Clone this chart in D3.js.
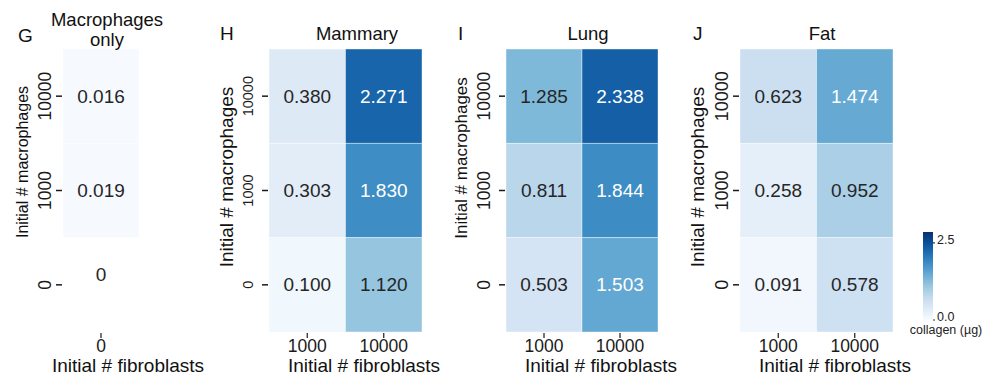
<!DOCTYPE html>
<html>
<head>
<meta charset="utf-8">
<script src="https://cdn.jsdelivr.net/npm/d3@7"></script>
<style>
  html, body { margin: 0; padding: 0; background: #fff; }
  svg { display: block; font-family: "Liberation Sans", Arial, Helvetica, sans-serif; }
</style>
</head>
<body>
<svg id="chart" width="985" height="375"></svg>
<script>
// Initial seeding densities (tick labels)
const fibroblastTicks = ["1000", "10000"];
const macrophageTicks = ["10000", "1000", "0"];
const noFibroblastTicks = ["0"];

// Collagen deposited (µg); rows follow macrophageTicks, columns follow fibroblast ticks
const macrophagesOnly = [0.016, 0.019, 0];
const macrophagesOnlyEmpty = [false, false, true];
const mammary = [[0.380, 2.271], [0.303, 1.830], [0.100, 1.120]];
const lung    = [[1.285, 2.338], [0.811, 1.844], [0.503, 1.503]];
const fat     = [[0.623, 1.474], [0.258, 0.952], [0.091, 0.578]];

// Colour scale limits and colour bar ticks
const colorDomain = [0, 2.85];
const colorTicks = [0, 2.5];
const colorLabel = "collagen (µg)";

const svg = d3.select("#chart");
const color = d3.scaleSequential(d3.interpolateBlues).domain(colorDomain);
const fmt = d3.format(".3f");

function luminance(c) {
  const rgb = d3.rgb(c);
  const lin = v => { v /= 255; return v <= 0.03928 ? v / 12.92 : Math.pow((v + 0.055) / 1.055, 2.4); };
  return 0.2126 * lin(rgb.r) + 0.7152 * lin(rgb.g) + 0.0722 * lin(rgb.b);
}

const gridTop = 49, gridBottom = 332;

const panels = [
  { letter: "G", letterX: 18, letterY: 42, title: ["Macrophages", "only"], titleX: 107, titleY: 26,
    cols: noFibroblastTicks, rows: macrophagesOnly.map(v => [v]), empty: macrophagesOnlyEmpty.map(v => [v]),
    left: 63, right: 139, yLab: { x: 22, y: 162, size: 16 }, yTick: { size: 17.5, off: 18 }, xLabX: 128 },
  { letter: "H", letterX: 220, letterY: 40, title: ["Mammary"], titleX: 357, titleY: 40,
    cols: fibroblastTicks, rows: mammary, left: 269, right: 422,
    yLab: { x: 226, y: 177, size: 19 }, yTick: { size: 14.5, off: 21 }, xLabX: 364 },
  { letter: "I", letterX: 458, letterY: 40, title: ["Lung"], titleX: 588, titleY: 40,
    cols: fibroblastTicks, rows: lung, left: 506, right: 658,
    yLab: { x: 461, y: 158, size: 17 }, yTick: { size: 17.5, off: 22 }, xLabX: 601 },
  { letter: "J", letterX: 693, letterY: 40, title: ["Fat"], titleX: 822, titleY: 40,
    cols: fibroblastTicks, rows: fat, left: 740, right: 893,
    yLab: { x: 697, y: 177, size: 19 }, yTick: { size: 18, off: 18 }, xLabX: 835 }
];

panels.forEach(p => {
  const g = svg.append("g");
  const x = d3.scaleBand().domain(p.cols).range([p.left, p.right]);
  const y = d3.scaleBand().domain(macrophageTicks).range([gridTop, gridBottom]);

  const cells = [];
  p.rows.forEach((row, i) => row.forEach((v, j) => {
    cells.push({ row: macrophageTicks[i], col: p.cols[j], value: v,
                 empty: p.empty ? p.empty[i][j] : false });
  }));

  // cells
  g.selectAll("rect.cell").data(cells.filter(d => !d.empty)).join("rect")
    .attr("class", "cell")
    .attr("x", d => x(d.col)).attr("y", d => y(d.row))
    .attr("width", x.bandwidth()).attr("height", y.bandwidth())
    .attr("fill", d => color(d.value))
    .attr("stroke", "rgba(255,255,255,0.5)").attr("stroke-width", 0.8);

  // annotations
  g.selectAll("text.ann").data(cells).join("text")
    .attr("class", "ann")
    .attr("x", d => x(d.col) + x.bandwidth() / 2)
    .attr("y", d => y(d.row) + y.bandwidth() / 2 + (d.empty ? -10 : 0))
    .attr("text-anchor", "middle").attr("dominant-baseline", "central")
    .attr("font-size", 19)
    .attr("fill", d => (!d.empty && luminance(color(d.value)) < 0.408) ? "#ffffff" : "#262626")
    .text(d => d.empty ? String(d.value) : fmt(d.value));

  // y axis ticks
  const yt = g.selectAll("g.ytick").data(macrophageTicks).join("g").attr("class", "ytick");
  yt.append("line")
    .attr("x1", p.left - 7).attr("x2", p.left - 1)
    .attr("y1", d => y(d) + y.bandwidth() / 2).attr("y2", d => y(d) + y.bandwidth() / 2)
    .attr("stroke", "#1a1a1a").attr("stroke-width", 1.5);
  yt.append("text")
    .attr("transform", d => `translate(${p.left - p.yTick.off},${y(d) + y.bandwidth() / 2}) rotate(-90)`)
    .attr("text-anchor", "middle").attr("dominant-baseline", "central")
    .attr("font-size", p.yTick.size).attr("fill", "#1a1a1a")
    .text(d => d);

  // x axis ticks
  const xt = g.selectAll("g.xtick").data(p.cols).join("g").attr("class", "xtick");
  xt.append("line")
    .attr("x1", d => x(d) + x.bandwidth() / 2).attr("x2", d => x(d) + x.bandwidth() / 2)
    .attr("y1", gridBottom + 1).attr("y2", gridBottom + 6)
    .attr("stroke", "#1a1a1a").attr("stroke-width", 1.2);
  xt.append("text")
    .attr("x", d => x(d) + x.bandwidth() / 2).attr("y", 351.5)
    .attr("text-anchor", "middle").attr("font-size", 17.5).attr("fill", "#1a1a1a")
    .text(d => d);

  // axis titles
  g.append("text")
    .attr("x", p.xLabX).attr("y", 372)
    .attr("text-anchor", "middle").attr("font-size", 19).attr("fill", "#111")
    .text("Initial # fibroblasts");
  g.append("text")
    .attr("transform", `translate(${p.yLab.x},${p.yLab.y}) rotate(-90)`)
    .attr("text-anchor", "middle").attr("dominant-baseline", "central")
    .attr("font-size", p.yLab.size).attr("fill", "#111")
    .text("Initial # macrophages");

  // panel title and letter
  p.title.forEach((t, i) => {
    g.append("text")
      .attr("x", p.titleX).attr("y", p.titleY + i * 19.5)
      .attr("text-anchor", "middle").attr("font-size", 18.5).attr("fill", "#111")
      .text(t);
  });
  g.append("text")
    .attr("x", p.letterX).attr("y", p.letterY)
    .attr("font-size", 19).attr("fill", "#111")
    .text(p.letter);
});

// colour bar: the bar spans the full colour range, ticks mark round values
const cb = { left: 923, width: 10, top: 232, bottom: 320 };
const cbScale = d3.scaleLinear().domain(colorDomain).range([cb.bottom, cb.top]);
const defs = svg.append("defs");
const grad = defs.append("linearGradient").attr("id", "cbGrad")
  .attr("x1", 0).attr("y1", 1).attr("x2", 0).attr("y2", 0);
d3.range(0, 1.0001, 0.05).forEach(f => {
  grad.append("stop").attr("offset", f)
    .attr("stop-color", color(colorDomain[0] + f * (colorDomain[1] - colorDomain[0])));
});
svg.append("rect")
  .attr("x", cb.left).attr("y", cb.top)
  .attr("width", cb.width).attr("height", cb.bottom - cb.top)
  .attr("fill", "url(#cbGrad)");
const cbt = svg.selectAll("g.cbtick").data(colorTicks).join("g").attr("class", "cbtick");
cbt.append("line")
  .attr("x1", cb.left + cb.width).attr("x2", cb.left + cb.width + 2)
  .attr("y1", d => cbScale(d)).attr("y2", d => cbScale(d))
  .attr("stroke", "#333").attr("stroke-width", 1.2);
cbt.append("text")
  .attr("x", cb.left + cb.width + 4).attr("y", d => cbScale(d) + 1)
  .attr("font-size", 12.5).attr("fill", "#222")
  .text(d => d3.format(".1f")(d));
svg.append("text")
  .attr("x", 946).attr("y", 334)
  .attr("text-anchor", "middle").attr("font-size", 12.5).attr("fill", "#222")
  .text(colorLabel);
</script>
</body>
</html>
